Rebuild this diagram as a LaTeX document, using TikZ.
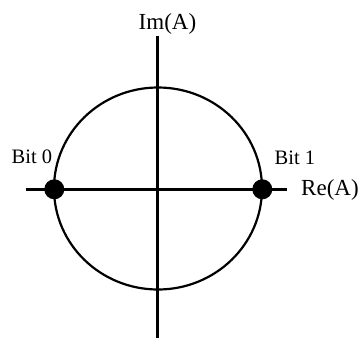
\documentclass[tikz,border=0pt]{standalone}
\usepackage{fontspec}
\setmainfont{Liberation Serif}
\begin{document}
\begin{tikzpicture}[x=1pt,y=-1pt,
  axis/.style={line width=3pt},
  ring/.style={line width=2.2pt},
  bitdot/.style={circle,fill=black,inner sep=0pt,minimum size=20pt},
  lab/.style={inner sep=0pt,anchor=base west,text=black}]
\useasboundingbox (0,0) rectangle (361,338);
\coordinate (c) at (158,188.5);
\coordinate (vt) at (157.5,35.7);
\coordinate (vb) at (157.5,338);
\coordinate (hl) at (25.7,189.3);
\coordinate (hr) at (286.7,189.3);
\draw[ring] (c) ellipse [x radius=104, y radius=101];
\draw[axis] (vt) -- (vb);
\draw[axis] (hl) -- (hr);
\node[bitdot] (b0) at (54.3,189.3) {};
\node[bitdot] (b1) at (262.3,189.3) {};
\node[lab,font=\fontsize{23}{23}\selectfont] (im) at (138.5,29.5) {Im(A)};
\node[lab,font=\fontsize{23}{23}\selectfont] (re) at (301,195) {Re(A)};
\node[lab,font=\fontsize{20.5}{20.5}\selectfont] (t0) at (11.5,163) {Bit 0};
\node[lab,font=\fontsize{20.5}{20.5}\selectfont] (t1) at (274.5,164) {Bit 1};
\end{tikzpicture}
\end{document}
